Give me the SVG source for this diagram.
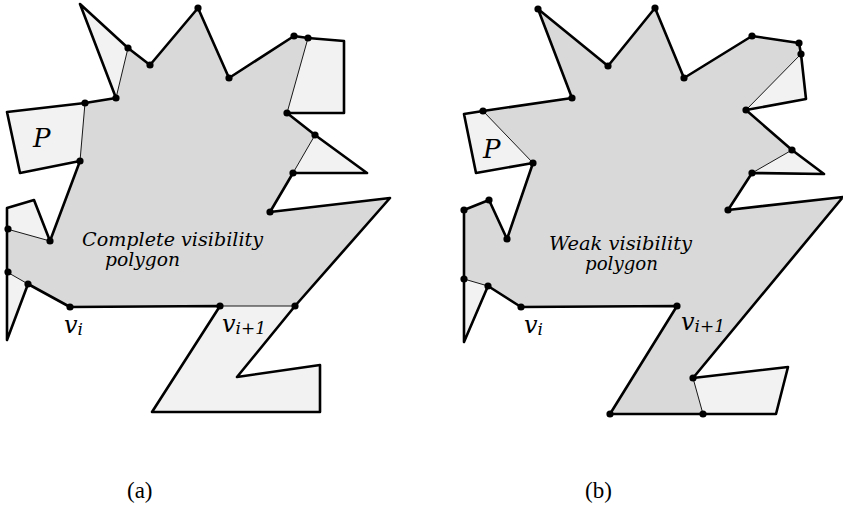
<svg xmlns="http://www.w3.org/2000/svg" width="843" height="508" viewBox="0 0 843 508">
<style>
.bg{fill:#ffffff}
.light{fill:#f2f2f2;stroke:none}
.vis{fill:#d9d9d9;stroke:#000;stroke-width:0.9;stroke-linejoin:round}
.bd{fill:none;stroke:#000;stroke-width:2.6;stroke-linejoin:round}
.lab{font-family:"DejaVu Serif","Liberation Serif",serif;font-style:italic;fill:#000}
.cap{font-family:"Liberation Serif","Times New Roman",serif;font-size:23px;fill:#000}
</style>
<defs>
<circle id="d" r="3.6" fill="#000"/>
</defs>
<rect class="bg" x="0" y="0" width="843" height="508"/>

<g id="figure-a">
<polygon class="light" points="80,4 128,48 150,65 198,8 229,78 294,36 308,38 344,41 344,113 287,113 315,135 367,173 293,173 270,212 390,198 295,306 237,377 320,365 320,412 152,412 220,306 70,307 28,284 7,340 7,208 34,200 50,241 80,161 20,173 7,112 85,103 116,98"/>
<polygon class="vis" points="116,98 128,48 150,65 198,8 229,78 294,36 308,38 287,113 315,135 293,173 270,212 390,198 295,306 220,306 70,307 28,284 7,272 7,229 50,241 80,161 85,103"/>
<polygon class="bd" points="80,4 128,48 150,65 198,8 229,78 294,36 308,38 344,41 344,113 287,113 315,135 367,173 293,173 270,212 390,198 295,306 237,377 320,365 320,412 152,412 220,306 70,307 28,284 7,340 7,208 34,200 50,241 80,161 20,173 7,112 85,103 116,98"/>
<g id="dots-a">
<use href="#d" x="128" y="48"/><use href="#d" x="150" y="65"/><use href="#d" x="198" y="8"/><use href="#d" x="229" y="78"/>
<use href="#d" x="294" y="36"/><use href="#d" x="308" y="38"/><use href="#d" x="287" y="113"/><use href="#d" x="315" y="135"/>
<use href="#d" x="293" y="173"/><use href="#d" x="270" y="212"/><use href="#d" x="116" y="98"/><use href="#d" x="85" y="103"/>
<use href="#d" x="80" y="161"/><use href="#d" x="50" y="241"/><use href="#d" x="8" y="229"/><use href="#d" x="8" y="272"/>
<use href="#d" x="28" y="284"/><use href="#d" x="70" y="307"/><use href="#d" x="220" y="306"/><use href="#d" x="295" y="306"/>
</g>
<text class="lab" x="33" y="147" font-size="26">P</text>
<text class="lab" x="82" y="246" font-size="18" textLength="181" lengthAdjust="spacingAndGlyphs">Complete visibility</text>
<text class="lab" x="105" y="266" font-size="18" textLength="75" lengthAdjust="spacingAndGlyphs">polygon</text>
<text class="lab" x="64" y="333" font-size="24">v<tspan font-size="17" dy="2">i</tspan></text>
<text class="lab" x="222" y="332" font-size="24">v<tspan font-size="17" dy="2">i+1</tspan></text>
<text class="cap" x="127" y="498">(a)</text>
</g>

<g id="figure-b">
<polygon class="light" points="538,9 608,66 655,8 684,78 752,36 799,43 801,54 806,99 746,110 792,150 824,174 752,173 728,210 843,197 693,378 788,367 776,414 703,414 610,414 677,306 521,307 488,286 464,342 464,210 489,200 507,239 533,163 476,173 464,114 483,111 572,98"/>
<polygon class="vis" points="538,9 608,66 655,8 684,78 752,36 799,43 801,54 746,110 792,150 752,173 728,210 843,197 693,378 703,414 610,414 677,306 521,307 488,286 464,279 464,210 489,200 507,239 533,163 483,111 572,98"/>
<polygon class="bd" points="538,9 608,66 655,8 684,78 752,36 799,43 801,54 806,99 746,110 792,150 824,174 752,173 728,210 843,197 693,378 788,367 776,414 703,414 610,414 677,306 521,307 488,286 464,342 464,210 489,200 507,239 533,163 476,173 464,114 483,111 572,98"/>
<g id="dots-b">
<use href="#d" x="538" y="9"/><use href="#d" x="608" y="66"/><use href="#d" x="655" y="8"/><use href="#d" x="684" y="78"/>
<use href="#d" x="752" y="36"/><use href="#d" x="799" y="43"/><use href="#d" x="801" y="54"/><use href="#d" x="746" y="110"/>
<use href="#d" x="792" y="150"/><use href="#d" x="752" y="173"/><use href="#d" x="728" y="210"/><use href="#d" x="572" y="98"/>
<use href="#d" x="483" y="111"/><use href="#d" x="533" y="163"/><use href="#d" x="507" y="239"/><use href="#d" x="489" y="200"/>
<use href="#d" x="464" y="210"/><use href="#d" x="464" y="279"/><use href="#d" x="488" y="286"/><use href="#d" x="521" y="307"/>
<use href="#d" x="677" y="306"/><use href="#d" x="693" y="378"/><use href="#d" x="703" y="414"/><use href="#d" x="610" y="414"/>
</g>
<text class="lab" x="483" y="158" font-size="26">P</text>
<text class="lab" x="549" y="250" font-size="18" textLength="143" lengthAdjust="spacingAndGlyphs">Weak visibility</text>
<text class="lab" x="585" y="270" font-size="18" textLength="73" lengthAdjust="spacingAndGlyphs">polygon</text>
<text class="lab" x="524" y="333" font-size="24">v<tspan font-size="17" dy="2">i</tspan></text>
<text class="lab" x="681" y="330" font-size="24">v<tspan font-size="17" dy="2">i+1</tspan></text>
<text class="cap" x="585" y="498">(b)</text>
</g>
</svg>
